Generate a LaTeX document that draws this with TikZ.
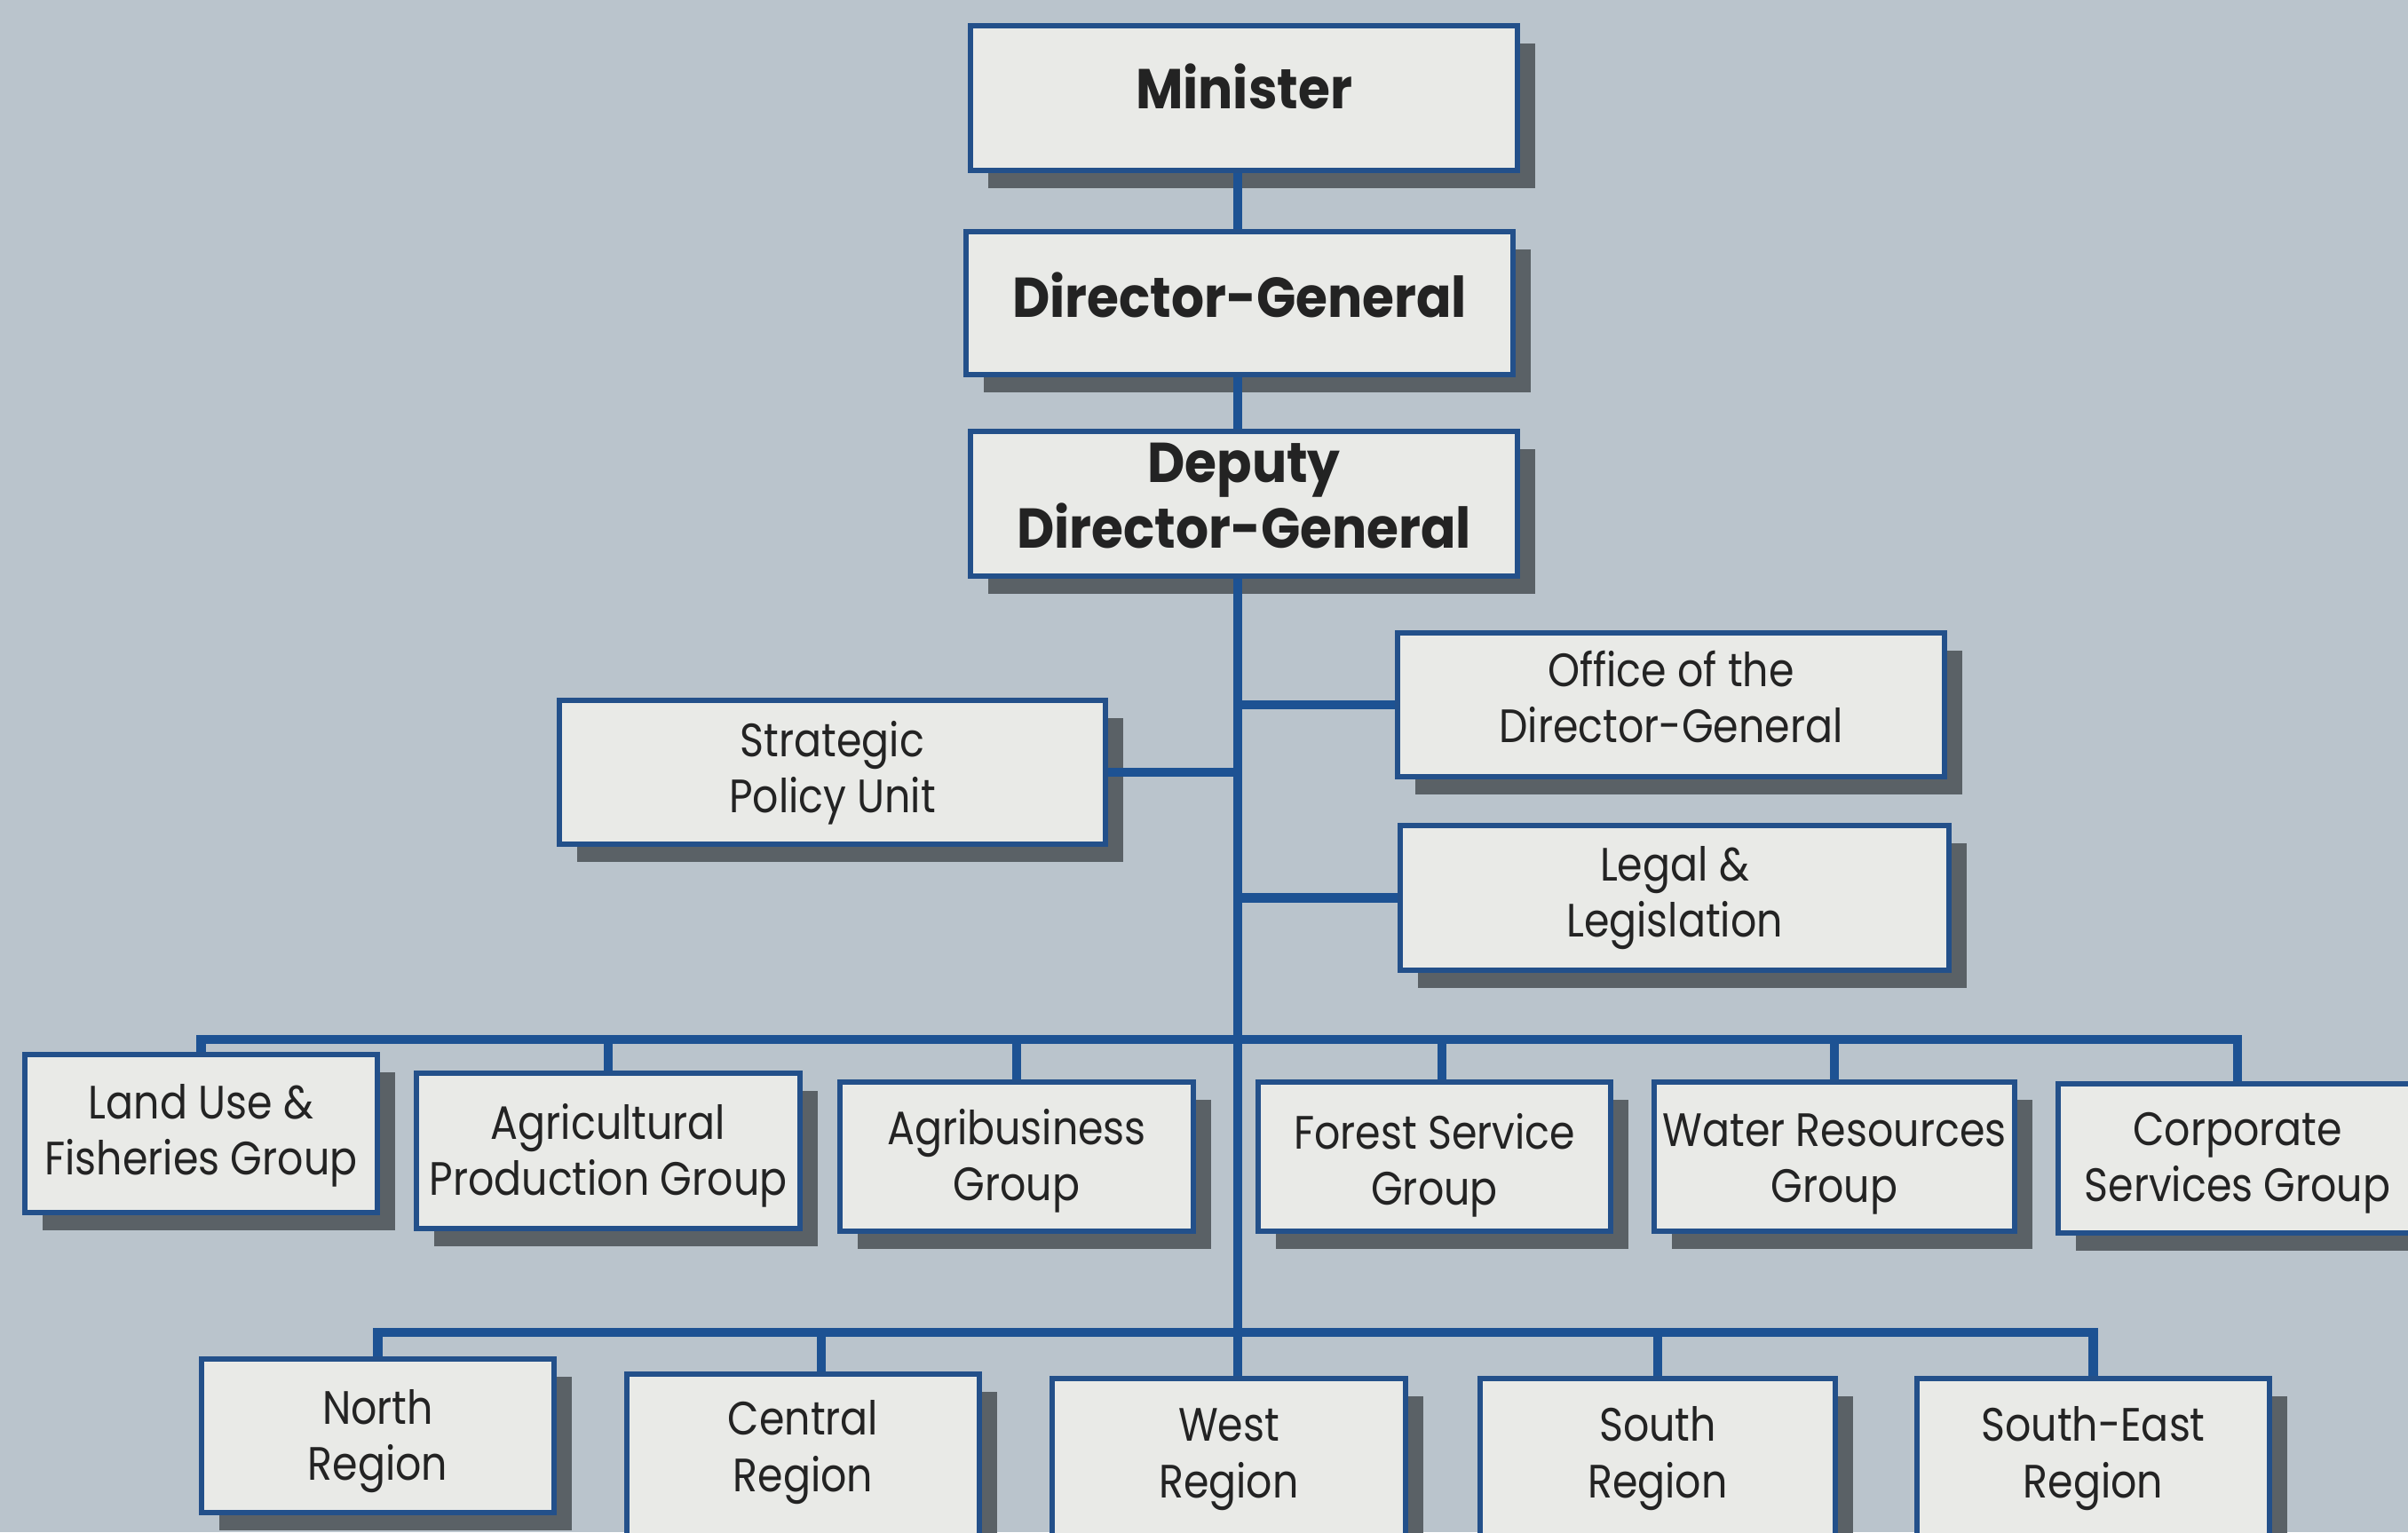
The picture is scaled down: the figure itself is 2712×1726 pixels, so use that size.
\documentclass[tikz,border=0pt]{standalone}
\usepackage{fontspec}
\setmainfont{Poppins}[FakeStretch=0.87,BoldFeatures={FakeStretch=0.92}]
\usetikzlibrary{shadows,fit}
\definecolor{bgc}{HTML}{BAC4CC}
\definecolor{boxc}{HTML}{E9EAE7}
\definecolor{linec}{HTML}{1D5293}
\definecolor{edgec}{HTML}{23508A}
\definecolor{shadc}{HTML}{5A6166}
\definecolor{txtc}{HTML}{232323}
% text set in a box of zero height and depth, so the node centre is its baseline
\newcommand\onel[2][0]{\raisebox{\dimexpr -0.35em + #1pt\relax}[0pt][0pt]{#2}}
\newcommand\twol[3][0]{\raisebox{\dimexpr 0.5\baselineskip - 0.35em + #1pt\relax}[0pt][0pt]{\begin{tabular}[t]{@{}c@{}}\smash{#2}\\\smash{#3}\end{tabular}}}
\begin{document}
\begin{tikzpicture}[x=0.01cm,y=-0.01cm,
  box/.style={draw=edgec, line width=1.5pt, fill=boxc, inner sep=0pt,
    text=txtc, font=\fontsize{15}{18}\selectfont,
    drop shadow={shadow xshift=0.2cm, shadow yshift=-0.2cm, fill=shadc, opacity=1}},
  topbox/.style={box, font=\fontsize{18}{21}\selectfont\bfseries},
  conn/.style={draw=linec, line width=3pt}]
\useasboundingbox (0,0) rectangle (2712,1726);
\fill[bgc] (0,0) rectangle (2712,1726);
\clip (0,0) rectangle (2712,1726);

% top chain
\node[topbox, fit={(1093,29)(1709,192)}] (min) {\onel[3]{Minister}};
\node[topbox, fit={(1088,261)(1704,422)}] (dg) {\onel[1.7]{Director-General}};
\node[topbox, fit={(1093,486)(1709,649)}] (ddg) {\twol[2.5]{Deputy}{Director-General}};

% staff units
\node[box, fit={(1574,713)(2190,875)}] (odg) {\twol[2.2]{Office of the}{Director-General}};
\node[box, fit={(630,789)(1245,951)}] (spu) {\twol[1.2]{Strategic}{Policy Unit}};
\node[box, fit={(1577,930)(2195,1093)}] (leg) {\twol[1.7]{Legal \&}{Legislation}};

% groups
\node[box, fit={(28,1188)(425,1366)}] (g1) {\twol[1]{Land Use \&}{Fisheries Group}};
\node[box, fit={(469,1209)(901,1384)}] (g2) {\twol[0]{Agricultural}{Production Group}};
\node[box, fit={(946,1219)(1344,1387)}] (g3) {\twol[0.2]{Agribusiness}{Group}};
\node[box, fit={(1417,1219)(1814,1387)}] (g4) {\twol[-1.2]{Forest Service}{Group}};
\node[box, fit={(1863,1219)(2269,1387)}] (g5) {\twol[-0.5]{Water Resources}{Group}};
\node[box, fit={(2318,1221)(2722,1389)}] (g6) {\twol[0.5]{Corporate}{Services Group}};

% regions
\node[box, fit={(227,1531)(624,1704)}] (r1) {\twol[0]{North}{Region}};
\node[box, fit={(706,1548)(1103,1730)}] (r2) {\twol[2.6]{Central}{Region}};
\node[box, fit={(1185,1553)(1583,1730)}] (r3) {\twol[1.3]{West}{Region}};
\node[box, fit={(1667,1553)(2067,1730)}] (r4) {\twol[1.3]{South}{Region}};
\node[box, fit={(2159,1553)(2556,1730)}] (r5) {\twol[1.3]{South-East}{Region}};

% connectors
\coordinate (t) at (1394,0);
\coordinate (gb) at (0,1171);
\coordinate (rb) at (0,1501);
\coordinate (d4) at (1624,0);
\coordinate (d7) at (925,0);
\draw[conn] (min.south -| t) -- (dg.north -| t);
\draw[conn] (dg.south -| t) -- (ddg.north -| t);
\draw[conn] (ddg.south -| t) -- (r3.north -| t);
\draw[conn] (odg.west) -- (odg.west -| t);
\draw[conn] (spu.east) -- (spu.east -| t);
\draw[conn] (leg.west) -- (leg.west -| t);
\draw[conn] (g1.north) -- (g1.north |- gb) -- (g6.north |- gb) -- (g6.north);
\foreach \n in {g2,g3,g5} \draw[conn] (\n.north) -- (\n.north |- gb);
\draw[conn] (g4.north -| d4) -- (d4 |- gb);
\draw[conn] (r1.north) -- (r1.north |- rb) -- (r5.north |- rb) -- (r5.north);
\draw[conn] (r2.north -| d7) -- (d7 |- rb);
\draw[conn] (r4.north) -- (r4.north |- rb);
\end{tikzpicture}
\end{document}
